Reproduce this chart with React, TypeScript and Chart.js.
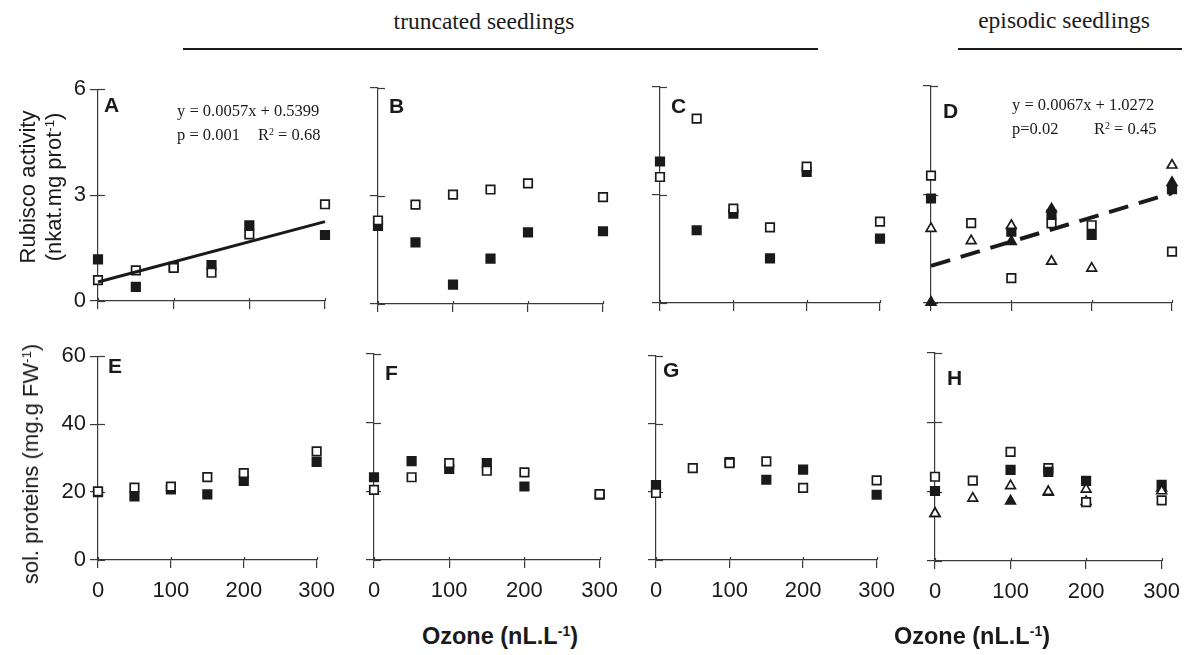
import React, { useEffect, useRef } from "react";
import { Chart, registerables } from "chart.js";

Chart.register(...registerables);

// ---------------- DATA ----------------
const ozone = [0, 50, 100, 150, 200, 300];
const xTicks = [0, 100, 200, 300];

// Rubisco activity (nkat.mg prot-1)
const rubA_open = [0.59, 0.87, 0.94, 0.8, 1.89, 2.74];
const rubA_filled = [1.18, 0.4, 0.97, 1.02, 2.14, 1.87];
const rubB_open = [2.32, 2.76, 3.04, 3.18, 3.35, 2.97];
const rubB_filled = [2.17, 1.71, 0.54, 1.26, 1.99, 2.02];
const rubC_open = [3.5, 5.12, 2.62, 2.1, 3.79, 2.26];
const rubC_filled = [3.93, 2.02, 2.48, 1.24, 3.64, 1.79];
const rubD_openSq = [3.52, 2.21, 0.69, 2.2, 2.15, 1.42];
const rubD_filledSq = [2.89, null, 1.97, 2.45, 1.88, 3.15];
const rubD_openTri = [2.06, 1.72, 2.14, 1.15, 0.96, 3.81];
const rubD_filledTri = [0.02, null, 1.7, 2.6, null, 3.33];

// soluble proteins (mg.g FW-1)
const protE_open = [20.2, 21.3, 21.6, 24.4, 25.6, 32.0];
const protE_filled = [20.0, 18.7, 20.8, 19.3, 23.3, 28.9];
const protF_open = [20.4, 24.1, 28.2, 26.0, 25.5, 19.2];
const protF_filled = [24.1, 28.8, 26.5, 28.2, 21.4, 19.0];
const protG_open = [19.7, 27.0, 28.5, 29.0, 21.2, 23.4];
const protG_filled = [22.0, null, 28.8, 23.6, 26.6, 19.2];
const protH_openSq = [24.3, 23.2, 31.5, 26.8, 17.0, 17.5];
const protH_filledSq = [20.2, null, 26.3, 25.7, 23.1, 22.0];
const protH_openTri = [13.7, 18.1, 21.7, 20.0, 20.7, 20.2];
const protH_filledTri = [13.7, null, 17.3, 19.8, 17.1, 21.0];

// regressions printed on the figure
const regA = { slope: 0.0057, intercept: 0.5399, label1: "y = 0.0057x + 0.5399", p: "p = 0.001", r2: "0.68" };
const regD = { slope: 0.0067, intercept: 1.0272, label1: "y = 0.0067x + 1.0272", p: "p=0.02", r2: "0.45" };

const rubTicks = [0, 3, 6];
const protTicks = [0, 20, 40, 60];

// ---------------- STYLE / LAYOUT ----------------
const INK = "#1a1a1a";
const AXIS = "#3a3a3a";
const SANS = "'Liberation Sans', Arial, sans-serif";
const SERIF = "'Liberation Serif', 'Times New Roman', serif";

const PAD_L = 60;
const PAD_B = 44;
const PAD_T = 16;
const PAD_R = 22;

type Series = { values: (number | null)[]; kind: string };

// Chart.js draws dataset 0 on top, so list series top-most first.
const PANELS = [
  { letter: "A", area: [98, 88, 325, 301], yMax: 6, yLabels: true, xLabels: false, letterPos: [104, 96],
    series: [{ values: rubA_open, kind: "openSq" }, { values: rubA_filled, kind: "filledSq" }], reg: regA, regPos: [177, 117, 258], dashed: false },
  { letter: "B", area: [378, 88, 603, 304], yMax: 6, yLabels: false, xLabels: false, letterPos: [389, 97],
    series: [{ values: rubB_open, kind: "openSq" }, { values: rubB_filled, kind: "filledSq" }] },
  { letter: "C", area: [660, 87, 880, 303], yMax: 6, yLabels: false, xLabels: false, letterPos: [671, 97],
    series: [{ values: rubC_open, kind: "openSq" }, { values: rubC_filled, kind: "filledSq" }] },
  { letter: "D", area: [931, 86, 1172, 303], yMax: 6, yLabels: false, xLabels: false, letterPos: [943, 102],
    series: [{ values: rubD_openTri, kind: "openTri" }, { values: rubD_filledTri, kind: "filledTri" }, { values: rubD_openSq, kind: "openSq" }, { values: rubD_filledSq, kind: "filledSq" }], reg: regD, regPos: [1012, 111, 1094], dashed: true },
  { letter: "E", area: [98, 355, 323, 560], yMax: 60, yLabels: true, xLabels: true, letterPos: [108, 357],
    series: [{ values: protE_open, kind: "openSq" }, { values: protE_filled, kind: "filledSq" }] },
  { letter: "F", area: [374, 354, 606, 560], yMax: 60, yLabels: false, xLabels: true, letterPos: [385, 364],
    series: [{ values: protF_open, kind: "openSq" }, { values: protF_filled, kind: "filledSq" }] },
  { letter: "G", area: [656, 356, 883, 560], yMax: 60, yLabels: false, xLabels: true, letterPos: [663, 361],
    series: [{ values: protG_open, kind: "openSq" }, { values: protG_filled, kind: "filledSq" }] },
  { letter: "H", area: [935, 353, 1168, 561], yMax: 60, yLabels: false, xLabels: true, letterPos: [947, 369],
    series: [{ values: protH_openTri, kind: "openTri" }, { values: protH_filledSq, kind: "filledSq" }, { values: protH_openSq, kind: "openSq" }, { values: protH_filledTri, kind: "filledTri" }] },
];

function markerStyle(kind: string) {
  const filled = kind.startsWith("filled");
  const tri = kind.endsWith("Tri");
  return {
    pointStyle: tri ? "triangle" : "rect",
    pointRadius: tri ? 5.6 : 6,
    pointBackgroundColor: filled ? INK : "#fff",
    pointBorderColor: INK,
    pointBorderWidth: 1.7,
  };
}

const innerTicks = {
  id: "innerTicks",
  beforeDatasetsDraw(chart: any) {
    const { ctx, chartArea, scales } = chart;
    ctx.save();
    ctx.strokeStyle = AXIS;
    ctx.lineWidth = 1.2;
    scales.y.ticks.forEach((t: any) => {
      const py = Math.round(scales.y.getPixelForValue(t.value)) + 0.5;
      ctx.beginPath();
      ctx.moveTo(chartArea.left, py);
      ctx.lineTo(chartArea.left + 7, py);
      ctx.stroke();
    });
    scales.x.ticks.forEach((t: any) => {
      const px = Math.round(scales.x.getPixelForValue(t.value)) + 0.5;
      ctx.beginPath();
      ctx.moveTo(px, chartArea.bottom);
      ctx.lineTo(px, chartArea.bottom - 3);
      ctx.stroke();
    });
    ctx.restore();
  },
};

function Panel({ p }: { p: any }) {
  const ref = useRef<HTMLCanvasElement>(null);
  const [l, t, r, b] = p.area;
  const W = r - l + PAD_L + PAD_R;
  const H = b - t + PAD_T + PAD_B;

  useEffect(() => {
    if (!ref.current) return;
    const datasets: any[] = p.series.map((s: Series) => ({
      type: "scatter",
      data: ozone
        .map((x, i) => (s.values[i] == null ? null : { x, y: s.values[i] }))
        .filter((d) => d !== null),
      clip: false,
      ...markerStyle(s.kind),
    }));
    if (p.reg) {
      datasets.push({
        type: "line",
        data: [0, 300].map((x) => ({ x, y: p.reg.intercept + p.reg.slope * x })),
        borderColor: INK,
        borderWidth: p.dashed ? 4 : 3,
        borderDash: p.dashed ? [20, 11] : [],
        pointRadius: 0,
        clip: false,
        order: -1,
      });
    }
    const tickFont = { family: SANS, size: 22 };
    const chart = new Chart(ref.current, {
      type: "scatter",
      data: { datasets },
      plugins: [innerTicks],
      options: {
        responsive: false,
        animation: false,
        events: [],
        layout: { padding: { left: 0, top: PAD_T, right: PAD_R, bottom: 0 } },
        plugins: { legend: { display: false }, tooltip: { enabled: false } },
        scales: {
          x: {
            type: "linear",
            min: 0,
            max: 300,
            afterBuildTicks: (s: any) => {
              s.ticks = xTicks.map((v) => ({ value: v }));
            },
            ticks: { display: p.xLabels, font: tickFont, color: INK, padding: 10, maxRotation: 0 },
            grid: { drawOnChartArea: false, drawTicks: true, tickLength: 8, color: AXIS, lineWidth: 1.2 },
            border: { display: true, color: AXIS, width: 1.2 },
            afterFit: (s: any) => {
              s.height = PAD_B;
            },
          },
          y: {
            type: "linear",
            min: 0,
            max: p.yMax,
            afterBuildTicks: (s: any) => {
              s.ticks = (p.yMax === 6 ? rubTicks : protTicks).map((v) => ({ value: v }));
            },
            ticks: { display: p.yLabels, font: tickFont, color: INK, padding: 4 },
            grid: { drawOnChartArea: false, drawTicks: true, tickLength: 8, color: AXIS, lineWidth: 1.2 },
            border: { display: true, color: AXIS, width: 1.2 },
            afterFit: (s: any) => {
              s.width = PAD_L;
            },
          },
        },
      } as any,
    } as any);
    return () => chart.destroy();
  }, []);

  return (
    <canvas
      ref={ref}
      width={W}
      height={H}
      style={{ position: "absolute", left: l - PAD_L, top: t - PAD_T, width: W, height: H }}
    />
  );
}

function Txt({ x, y, size, family, weight, children, anchor = "left" }: any) {
  // y = baseline
  return (
    <div
      style={{
        position: "absolute",
        left: x,
        top: y - 0.85 * size,
        fontSize: size,
        lineHeight: "1",
        fontFamily: family,
        fontWeight: weight || "normal",
        color: INK,
        whiteSpace: "nowrap",
        transform: anchor === "center" ? "translateX(-50%)" : undefined,
      }}
    >
      {children}
    </div>
  );
}

function VTxt({ cx, cy, size, children }: any) {
  return (
    <div
      style={{
        position: "absolute",
        left: cx,
        top: cy,
        fontSize: size,
        lineHeight: "1",
        fontFamily: SANS,
        color: INK,
        whiteSpace: "nowrap",
        transform: "translate(-50%, -50%) rotate(-90deg)",
      }}
    >
      {children}
    </div>
  );
}

const supStyle: any = { fontSize: "0.6em", verticalAlign: "0.55em", lineHeight: 0 };

export default function App() {
  return (
    <div style={{ position: "absolute", left: 0, top: 0, width: 1193, height: 655, background: "#fff", overflow: "hidden" }}>
      {/* group headers */}
      <Txt x={484} y={30} size={23.5} family={SERIF} anchor="center">truncated seedlings</Txt>
      <div style={{ position: "absolute", left: 183, top: 48, width: 635, height: 1.5, background: INK }} />
      <Txt x={1064} y={29} size={23.5} family={SERIF} anchor="center">episodic seedlings</Txt>
      <div style={{ position: "absolute", left: 958, top: 48, width: 224, height: 1.5, background: INK }} />

      {PANELS.map((p) => (
        <Panel key={p.letter} p={p} />
      ))}

      {PANELS.map((p) => (
        <Txt key={"L" + p.letter} x={p.letterPos[0]} y={p.letterPos[1] + 16} size={21} family={SANS} weight="bold">
          {p.letter}
        </Txt>
      ))}

      {PANELS.filter((p) => p.reg).map((p: any) => (
        <React.Fragment key={"R" + p.letter}>
          <Txt x={p.regPos[0]} y={p.regPos[1]} size={16.5} family={SERIF}>{p.reg.label1}</Txt>
          <Txt x={p.regPos[0]} y={p.regPos[1] + 24} size={16.5} family={SERIF}>{p.reg.p}</Txt>
          <Txt x={p.regPos[2]} y={p.regPos[1] + 24} size={16.5} family={SERIF}>
            R<span style={supStyle}>2</span> = {p.reg.r2}
          </Txt>
        </React.Fragment>
      ))}

      {/* y axis titles */}
      <VTxt cx={28} cy={187} size={22}>Rubisco activity</VTxt>
      <VTxt cx={54} cy={187} size={22}>
        (nkat.mg prot<span style={supStyle}>-1</span>)
      </VTxt>
      <VTxt cx={31} cy={464} size={22}>
        sol. proteins (mg.g FW<span style={supStyle}>-1</span>)
      </VTxt>

      {/* x axis titles */}
      <Txt x={500} y={645} size={23.5} family={SANS} weight="bold" anchor="center">
        Ozone (nL.L<span style={supStyle}>-1</span>)
      </Txt>
      <Txt x={972} y={645} size={23.5} family={SANS} weight="bold" anchor="center">
        Ozone (nL.L<span style={supStyle}>-1</span>)
      </Txt>
    </div>
  );
}
